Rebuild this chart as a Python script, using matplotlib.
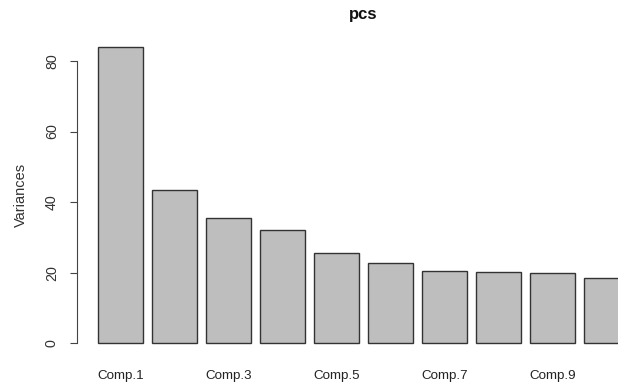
import numpy as np
import matplotlib
matplotlib.use("Agg")
import matplotlib.pyplot as plt

plt.rcParams['font.family'] = ['Liberation Sans', 'DejaVu Sans']

# ---------------------------------------------------
components = ["Comp.%d" % i for i in range(1, 11)]
variances = [84.0, 43.4, 35.5, 32.1, 25.6, 22.7, 20.5, 20.2, 20.0, 18.5]
title = "pcs"
# ---------------------------------------------------

W, H = 618, 383
fig = plt.figure(figsize=(W / 100, H / 100), dpi=100)

# plot region like R's barplot (extends past the right edge of the image)
left, right, top, bottom = 77, 650, 35, 355
ax = fig.add_axes([left / W, (H - bottom) / H, (right - left) / W, (bottom - top) / H])

n = len(variances)
lefts = 0.2 + 1.2 * np.arange(n)
centers = lefts + 0.5
ax.bar(lefts, variances, width=1.0, align='edge', color='#bebebe',
       edgecolor='#333333', linewidth=1.0)

span = lefts[-1] + 1.0 - 0.2
ax.set_xlim(0.2 - 0.04 * span, lefts[-1] + 1.0 + 0.04 * span)
ymax = max(variances)
ax.set_ylim(-0.04 * ymax, 1.04 * ymax)

for s in ['top', 'right', 'bottom']:
    ax.spines[s].set_visible(False)
ax.spines['left'].set_bounds(0, 80)
ax.spines['left'].set_color('#444444')

ax.set_yticks([0, 20, 40, 60, 80])
ax.tick_params(axis='y', length=5, width=0.8, color='#444444', pad=8,
               labelsize=10.3, labelcolor='#333333')
for lab in ax.get_yticklabels():
    lab.set_rotation(90)
    lab.set_va('center')

ax.set_xticks(centers[::2])
ax.set_xticklabels(components[::2])
ax.tick_params(axis='x', length=0, pad=11, labelsize=9.6, labelcolor='#222222')

ax.set_ylabel("Variances", fontsize=10.5, color='#333333', labelpad=12)
fig.text((left + right) / 2 / W, 1 - 15 / H, title, ha='center', va='center',
         fontsize=12, fontweight='bold', color='#111111')

fig.savefig("out.png", dpi=100)
